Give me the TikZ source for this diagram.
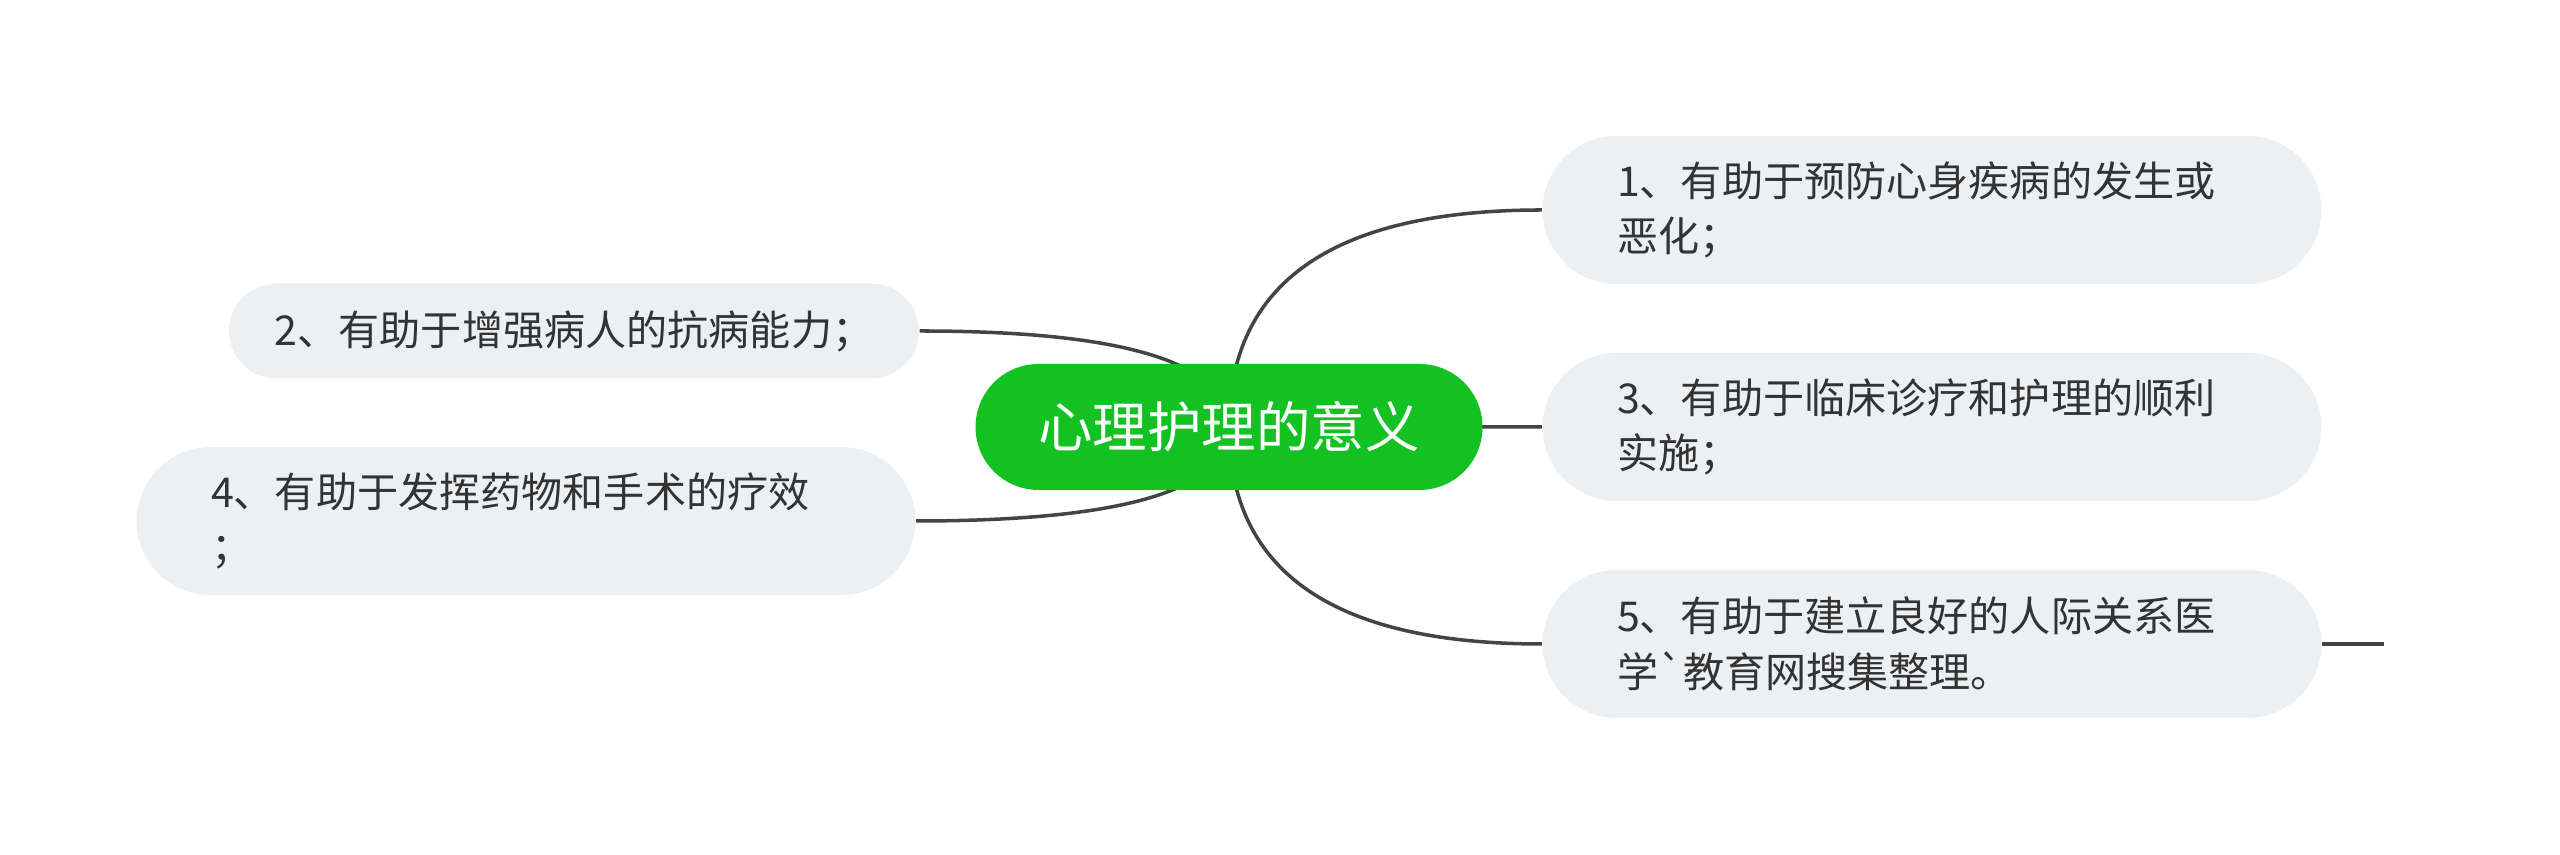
\documentclass[tikz,border=0pt]{standalone}
\usepackage{fontspec}
\setmainfont{Noto Sans CJK SC}[Ligatures=TeXOff]
\usepackage{tikz}
\usetikzlibrary{positioning,calc,backgrounds}
\definecolor{rootGreen}{RGB}{20,193,35}
\definecolor{leafGrey}{RGB}{237,240,243}
\definecolor{linkGrey}{RGB}{68,68,68}
\definecolor{textGrey}{RGB}{51,51,51}

\begin{document}
\begin{tikzpicture}[x=0.1mm,y=-0.1mm,
    root/.style={fill=rootGreen,text=white,rounded corners=6.3mm,
        minimum width=50.7mm,minimum height=12.6mm,
        font=\fontsize{15.5}{18}\selectfont},
    leafbase/.style={fill=leafGrey,text=textGrey,
        font=\fontsize{11.7}{15.9}\selectfont},
    leaf/.style={leafbase,rounded corners=7.4mm,text width=63mm,align=left,
        inner xsep=7.45mm,minimum height=14.8mm},
    shortleaf/.style={leafbase,rounded corners=4.75mm,align=center,
        minimum width=69mm,minimum height=9.5mm},
    link/.style={draw=linkGrey,line width=1pt}]
    \useasboundingbox (0,0) rectangle (2560,855);

    % Root
    \node[root] (root) at (1229,427) {心理护理的意义};

    % Right side
    \node[leaf] (b1) at (1932,210) {1、有助于预防心身疾病的发生或\\恶化；};
    \node[leaf] (b3) at (1932,427) {3、有助于临床诊疗和护理的顺利\\实施；};
    \node[leaf] (b5) at (1932,644) {5、有助于建立良好的人际关系医\\学`教育网搜集整理。};

    % Left side
    \node[shortleaf] (b2) at (574,331) {2、有助于增强病人的抗病能力；};
    \node[leaf] (b4) at (526,521) {4、有助于发挥药物和手术的疗效\\；};

    % Branches
    \begin{scope}[on background layer]
        \foreach \br in {b1,b3,b5}
            \draw[link] (root.center) .. controls ($(root.center)!2/3!(root.center|-\br.west)$)
                and ($(\br.west)!2/3!(root.center|-\br.west)$) .. (\br.west);
        \foreach \br in {b2,b4}
            \draw[link] (root.center) .. controls ($(root.center)!2/3!(root.center|-\br.east)$)
                and ($(\br.east)!2/3!(root.center|-\br.east)$) .. (\br.east);
    \end{scope}
    \coordinate (stub) at ([xshift=6.2mm]b5.east);
    \draw[link] (b5.east) -- (stub);
\end{tikzpicture}
\end{document}
